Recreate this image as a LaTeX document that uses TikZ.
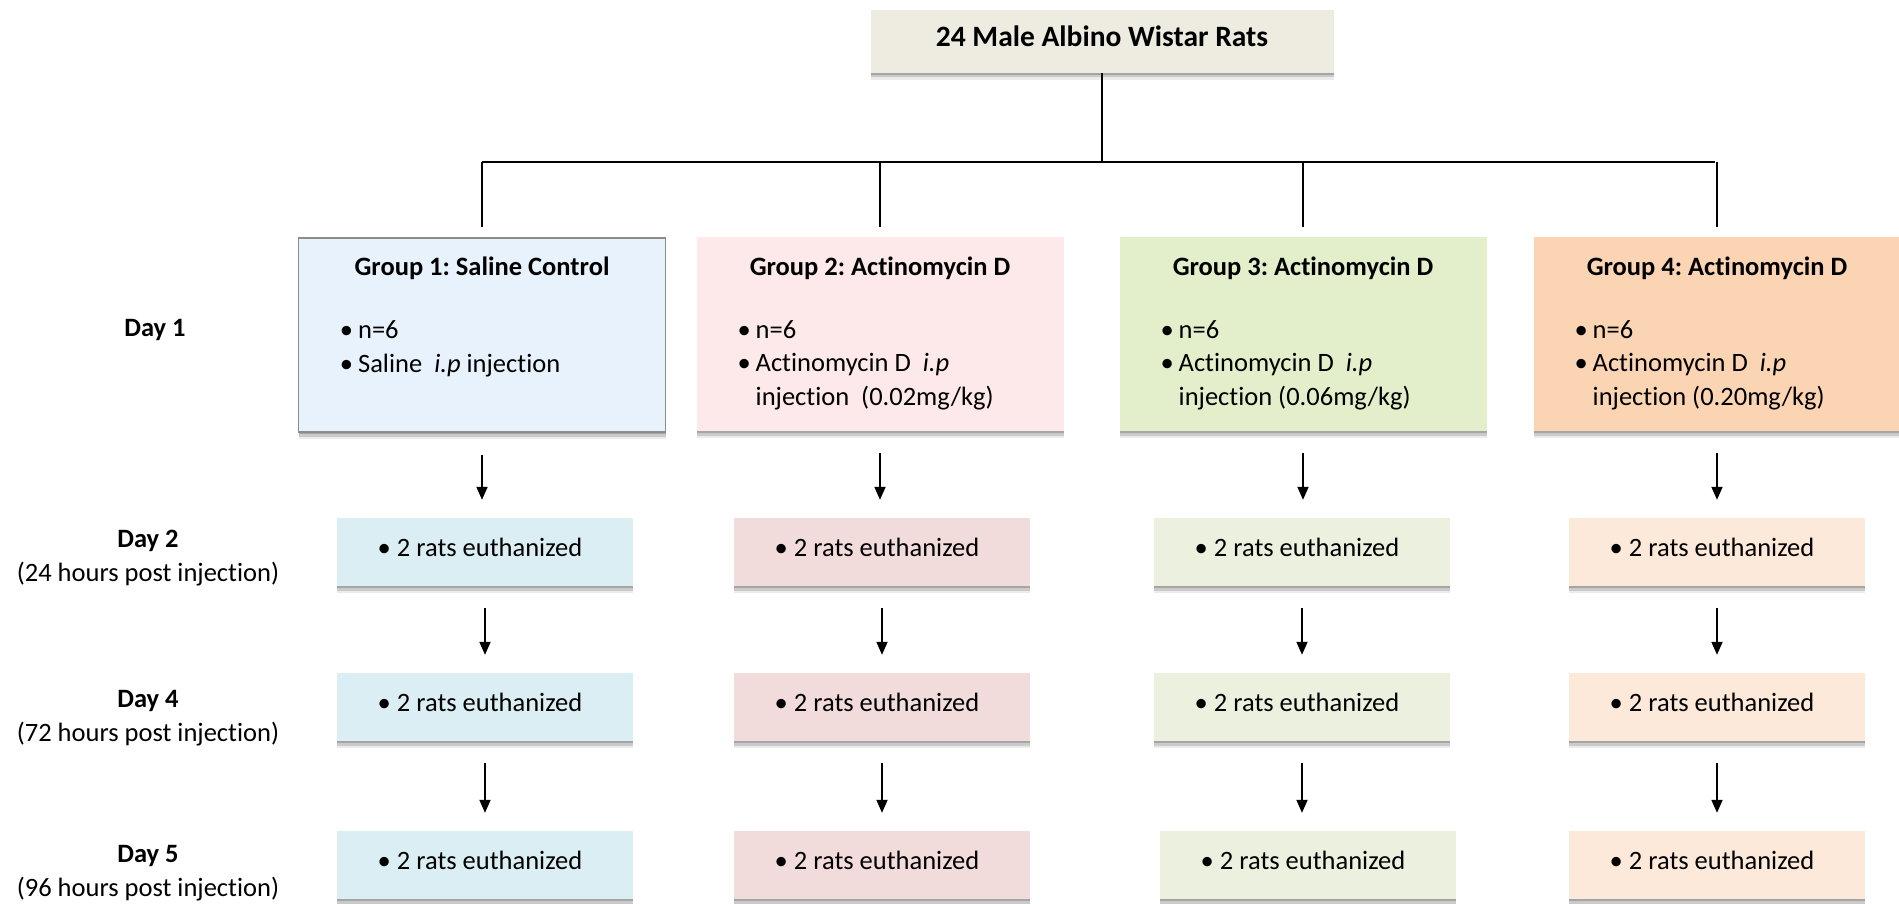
\documentclass[tikz,border=0pt]{standalone}
\usepackage{fontspec}
\setmainfont{Carlito}[Ligatures=NoCommon]
\usetikzlibrary{arrows.meta,positioning,shadows}
\definecolor{topc}{HTML}{EEECE1}
\definecolor{gA}{HTML}{E8F2FC}
\definecolor{gB}{HTML}{FDE9E9}
\definecolor{gC}{HTML}{E2EFCA}
\definecolor{gD}{HTML}{FBD4B4}
\definecolor{cA}{HTML}{DAEEF3}
\definecolor{cB}{HTML}{F2DCDB}
\definecolor{cC}{HTML}{EBF1DE}
\definecolor{cD}{HTML}{FDE9D9}
\definecolor{edge}{HTML}{8C8C8C}
\newcommand{\bodysize}{\fontsize{26.5}{33.5}\selectfont}
\frenchspacing
\tikzset{
  box/.style={rectangle, align=center, inner sep=0pt,
    general shadow={shadow yshift=-2pt, fill=black, opacity=.18},
    general shadow={shadow yshift=-4.5pt, fill=black, opacity=.14},
    general shadow={shadow yshift=-7pt, fill=black, opacity=.08}},
  grp/.style={box, minimum width=367pt, minimum height=194pt},
  cell/.style={box, minimum width=296pt, minimum height=68pt, text depth=10pt},
  head/.style={font=\bodysize\bfseries, inner sep=0pt},
  list/.style={align=left, inner sep=0pt, anchor=north west},
  day/.style={align=center, inner sep=0pt},
  link/.style={line width=2.6pt},
  arr/.style={-{Triangle[length=13pt, width=11pt]}, line width=1.8pt, shorten <=22pt, shorten >=18pt}
}
\newcommand{\blist}[2]{\begin{tabular}{@{}l@{\hspace{5pt}}l@{}}\textbullet & n=6\\ \textbullet & #1\\ & #2\end{tabular}}

\begin{document}
\begin{tikzpicture}[x=1pt, y=-1pt, font=\bodysize]
\useasboundingbox (0,0) rectangle (1899,903);

\node[box, fill=topc, minimum width=463pt, minimum height=63pt, text depth=10pt, font=\fontsize{29.5}{34}\selectfont\bfseries] (top) at (1102,41) {24 Male Albino Wistar Rats};

% groups
\node[grp, fill=gA, draw=edge, line width=1.5pt] (g1) at (482,335) {};
\node[grp, fill=gB] (g2) at (880,334) {};
\node[grp, fill=gC] (g3) at (1303,334) {};
\node[grp, fill=gD] (g4) at (1717,334) {};
\node[head] (g1t) at ([yshift=-31pt]g1.north) {Group 1: Saline Control};
\node[head] (g2t) at ([yshift=-31pt]g2.north) {Group 2: Actinomycin D};
\node[head] (g3t) at ([yshift=-31pt]g3.north) {Group 3: Actinomycin D};
\node[head] (g4t) at ([yshift=-31pt]g4.north) {Group 4: Actinomycin D};
\node[list] (g1l) at ([xshift=42pt, yshift=-78pt]g1.north west)
  {\begin{tabular}{@{}l@{\hspace{5pt}}l@{}}\textbullet & n=6\\ \textbullet & Saline\ \ \textit{i.p} injection\end{tabular}};
\node[list] (g2l) at ([xshift=41pt, yshift=-78pt]g2.north west) {\blist{Actinomycin D\ \ \textit{i.p}}{injection\ \ (0.02mg/kg)}};
\node[list] (g3l) at ([xshift=41pt, yshift=-78pt]g3.north west) {\blist{Actinomycin D\ \ \textit{i.p}}{injection (0.06mg/kg)}};
\node[list] (g4l) at ([xshift=41pt, yshift=-78pt]g4.north west) {\blist{Actinomycin D\ \ \textit{i.p}}{injection (0.20mg/kg)}};

% days
\node[day, font=\bodysize\bfseries] (day1) at (155,330) {Day 1};
\node[day] (day2) at (148,558) {\textbf{Day 2}\\(24 hours post injection)};
\node[day] (day4) at (148,718) {\textbf{Day 4}\\(72 hours post injection)};
\node[day] (day5) at (148,873) {\textbf{Day 5}\\(96 hours post injection)};

% tree
\coordinate (barl) at (482,162);
\coordinate (barr) at (1715,162);
\draw[link] (top.south) -- (top.south |- barl);
\draw[link] (barl) -- (barr);
\foreach \i in {1,...,4}
  \draw[link] (g\i.north |- barl) -- ([yshift=10pt]g\i.north);

% euthanized rows
\foreach \i/\x/\xf/\c in {1/485/485/cA, 2/882/882/cB, 3/1302/1308/cC, 4/1717/1717/cD} {
  \node[cell, fill=\c] (d2\i) at (\x,552) {\textbullet\ 2 rats euthanized\hspace{10pt}};
  \node[cell, fill=\c] (d4\i) at (\x,707) {\textbullet\ 2 rats euthanized\hspace{10pt}};
  \node[cell, fill=\c] (d5\i) at (\xf,865) {\textbullet\ 2 rats euthanized\hspace{10pt}};
  \draw[arr] (g\i.south) -- (g\i.south |- d2\i.north);
  \draw[arr] (d2\i) -- (d4\i);
  \draw[arr] (d4\i.south) -- (d4\i.south |- d5\i.north);
}
\end{tikzpicture}
\end{document}
